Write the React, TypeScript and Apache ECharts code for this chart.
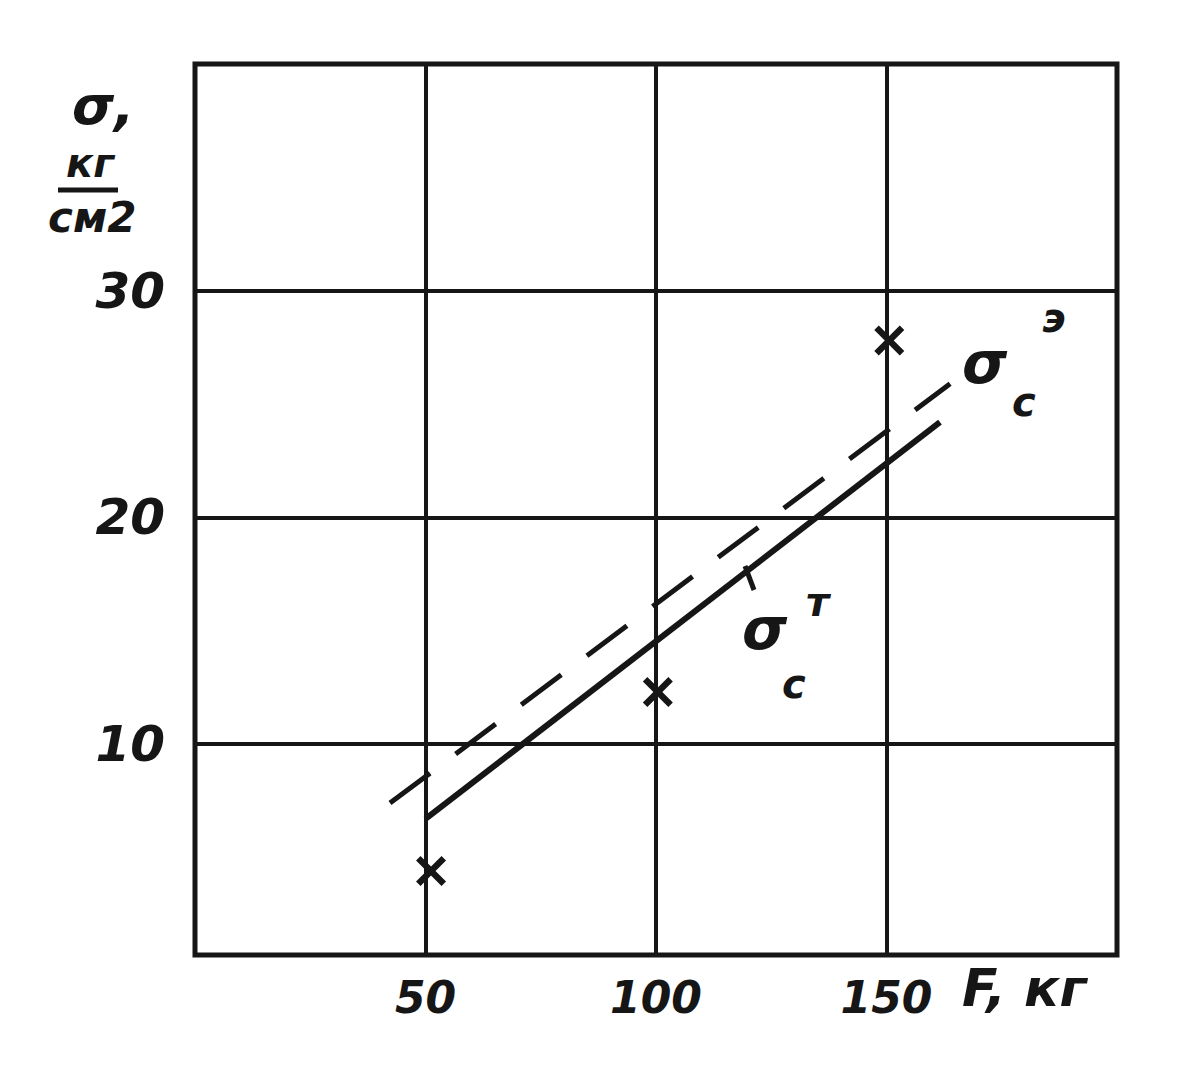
import React, { useEffect, useRef } from "react";
import * as echarts from "echarts";

// Data
const xTickLabels = [50, 100, 150];
const yTickLabels = [10, 20, 30];
const gridLinesY = [10, 20, 30];
// σс^э (experimental) — dashed line
const dashedLine: [number, number][] = [
  [42.3, 7.4],
  [163.8, 25.9],
];
// σс^т (theoretical) — solid line
const solidLine: [number, number][] = [
  [50, 6.7],
  [161.6, 24.2],
];
// measured points (asterisks)
const measured: [number, number][] = [
  [51.2, 4.4],
  [100.4, 12.3],
  [150.6, 27.8],
];

const INK = "#161616";
const FONT = "DejaVu Sans";

export default function App() {
  const ref = useRef<HTMLDivElement>(null);
  useEffect(() => {
    document.body.style.margin = "0";
    const chart = echarts.init(ref.current!, null, { renderer: "svg" });
    const txt = (
      text: string,
      x: number,
      y: number,
      size: number,
      extra: any = {}
    ) => ({
      type: "text",
      x,
      y,
      silent: true,
      style: {
        text,
        fill: INK,
        font: `italic bold ${size}px "${FONT}"`,
        textVerticalAlign: "top",
        ...extra,
      },
    });
    chart.setOption({
      animation: false,
      backgroundColor: "#ffffff",
      grid: {
        left: 195,
        top: 64,
        width: 922,
        height: 891,
        show: true,
        borderColor: INK,
        borderWidth: 5,
        backgroundColor: "transparent",
      },
      xAxis: {
        type: "value",
        min: 0,
        max: 200,
        interval: 50,
        axisLine: { show: false },
        axisTick: { show: false },
        splitLine: { show: true, lineStyle: { color: INK, width: 4 } },
        axisLabel: {
          margin: 20,
          color: INK,
          fontFamily: FONT,
          fontStyle: "italic",
          fontWeight: "bold",
          fontSize: 44,
          formatter: (v: number) => (xTickLabels.includes(v) ? String(v) : ""),
        },
      },
      yAxis: {
        type: "value",
        min: 0.7,
        max: 40,
        axisLine: { show: false },
        axisTick: { show: false },
        splitLine: { show: false },
        axisLabel: {
          customValues: yTickLabels,
          margin: 30,
          color: INK,
          fontFamily: FONT,
          fontStyle: "italic",
          fontWeight: "bold",
          fontSize: 50,
          formatter: (v: number) => String(v),
        },
      },
      series: [
        {
          type: "line",
          data: solidLine,
          symbol: "none",
          silent: true,
          lineStyle: { color: INK, width: 6 },
          markLine: {
            silent: true,
            symbol: "none",
            label: { show: false },
            lineStyle: { color: INK, width: 4, type: "solid" },
            data: gridLinesY.map((v) => ({ yAxis: v })),
          },
          z: 3,
        },
        {
          type: "line",
          data: dashedLine,
          symbol: "none",
          silent: true,
          lineStyle: { color: INK, width: 5, type: [50, 32] },
          z: 3,
        },
        {
          type: "scatter",
          data: measured,
          symbol:
            "path://M0,-3 L7,-10 L10,-7 L3,0 L10,7 L7,10 L0,3 L-7,10 L-10,7 L-3,0 L-10,-7 L-7,-10 Z",
          symbolSize: 30,
          itemStyle: { color: INK, opacity: 1 },
          silent: true,
          z: 4,
        },
      ],
      graphic: [
        // y-axis name: σ, кг/см2
        txt("σ,", 72, 78, 54),
        txt("кг", 66, 143, 40),
        {
          type: "line",
          silent: true,
          shape: { x1: 58, y1: 190, x2: 118, y2: 190 },
          style: { stroke: INK, lineWidth: 5 },
        },
        txt("см2", 48, 196, 42),
        // x-axis name
        txt("F, кг", 962, 962, 52),
        // σс^э label
        txt("σ", 962, 334, 58),
        txt("с", 1012, 382, 40),
        txt("э", 1042, 298, 40),
        // σс^т label
        txt("σ", 742, 600, 58),
        txt("с", 782, 664, 40),
        txt("т", 806, 582, 40),
        {
          type: "line",
          silent: true,
          shape: { x1: 745, y1: 566, x2: 754, y2: 590 },
          style: { stroke: INK, lineWidth: 5 },
        },
      ],
    });
    return () => chart.dispose();
  }, []);
  return <div ref={ref} style={{ width: 1190, height: 1085 }} />;
}
